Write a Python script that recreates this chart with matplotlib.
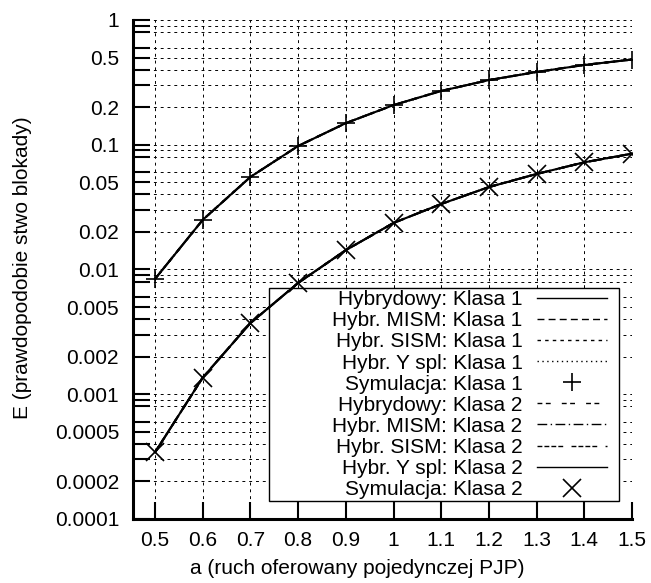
import matplotlib
matplotlib.use("Agg")
import matplotlib.pyplot as plt
from matplotlib.patches import Rectangle
from matplotlib.ticker import NullLocator

plt.rcParams['font.family'] = ['Liberation Sans', 'DejaVu Sans']
plt.rcParams['font.size'] = 15

# ruch oferowany pojedynczej PJP
a = [0.5, 0.6, 0.7, 0.8, 0.9, 1.0, 1.1, 1.2, 1.3, 1.4, 1.5]

# prawdopodobienstwo blokady
klasa1 = [0.000342, 0.00136, 0.00372, 0.0078, 0.0143, 0.0236, 0.0335, 0.0458, 0.0583, 0.0723, 0.0848]
klasa2 = [0.0084, 0.0250, 0.0552, 0.0977, 0.149, 0.208, 0.270, 0.330, 0.383, 0.436, 0.482]

x_ticks = [0.5, 0.6, 0.7, 0.8, 0.9, 1.0, 1.1, 1.2, 1.3, 1.4, 1.5]
x_labels = ['0.5', '0.6', '0.7', '0.8', '0.9', '1', '1.1', '1.2', '1.3', '1.4', '1.5']
y_major = [0.0001, 0.0002, 0.0005, 0.001, 0.002, 0.005, 0.01, 0.02, 0.05, 0.1, 0.2, 0.5, 1]
y_labels = ['0.0001', '0.0002', '0.0005', '0.001', '0.002', '0.005',
            '0.01', '0.02', '0.05', '0.1', '0.2', '0.5', '1']
y_extra = [3, 4, 6, 8, 9]  # dodatkowe znaczniki w kazdej dekadzie

fig = plt.figure(figsize=(6.51, 5.83), dpi=100)
ax = fig.add_axes([0.2043, 0.1098, 0.7665, 0.8559])
ax.set_yscale('log')
ax.set_xlim(0.4538, 1.5)
ax.set_ylim(0.0001, 1)

# wszystkie znaczniki osi y
ticks = list(y_major)
labels = list(y_labels)
for d in [0.0001, 0.001, 0.01, 0.1]:
    for k in y_extra:
        ticks.append(d * k)
        labels.append('')
ax.set_yticks(ticks)
ax.set_yticklabels(labels)
ax.yaxis.set_minor_locator(NullLocator())
ax.set_xticks(x_ticks)
ax.set_xticklabels(x_labels)

ax.tick_params(direction='in', length=12, width=1.5, colors='black')
ax.tick_params(axis='y', pad=10)
ax.tick_params(axis='x', pad=9)
for s in ['top', 'right']:
    ax.spines[s].set_visible(False)
for s in ['left', 'bottom']:
    ax.spines[s].set_linewidth(2.2)

ax.set_axisbelow(True)
ax.grid(True, color='black', lw=0.7, linestyle=(0, (3, 4)))

# linie modeli
lw = 1.5
h = []
h += ax.plot(a, klasa2, color='black', lw=lw, ls='-', label='Hybrydowy: Klasa 1')
h += ax.plot(a, klasa2, color='black', lw=lw, ls=(0, (5, 3)), label='Hybr. MISM: Klasa 1')
h += ax.plot(a, klasa2, color='black', lw=lw, ls=(0, (2.5, 3)), label='Hybr. SISM: Klasa 1')
h += ax.plot(a, klasa2, color='black', lw=lw, ls=(0, (1, 2.5)), label='Hybr. Y spl: Klasa 1')
h += ax.plot(a, klasa2, ls='none', marker='+', color='black', ms=13, mew=1.2, label='Symulacja: Klasa 1')
h += ax.plot(a, klasa1, color='black', lw=lw, ls=(0, (3.5, 2.5, 3.5, 8)), label='Hybrydowy: Klasa 2')
h += ax.plot(a, klasa1, color='black', lw=lw, ls=(0, (7, 2.5, 1, 2.5)), label='Hybr. MISM: Klasa 2')
h += ax.plot(a, klasa1, color='black', lw=lw, ls=(0, (3.5, 1.5, 3.5, 1.5, 3.5, 1.5, 3.5, 6)), label='Hybr. SISM: Klasa 2')
h += ax.plot(a, klasa1, color='black', lw=lw, ls='-', label='Hybr. Y spl: Klasa 2')
h += ax.plot(a, klasa1, ls='none', marker='x', color='black', ms=13, mew=1.2, label='Symulacja: Klasa 2')
for ln in h:
    ln.set_zorder(3)

# ramka legendy
box = Rectangle((0.2725, 0.036), 0.7015, 0.427, transform=ax.transAxes,
                facecolor='white', edgecolor='black', lw=1, zorder=1.5)
ax.add_patch(box)
leg = ax.legend(handles=h, loc='lower right', bbox_to_anchor=(0.95, 0.04),
                markerfirst=False, frameon=False, fontsize=15,
                handlelength=3.36, handletextpad=0.7, labelspacing=0.1,
                borderpad=0, borderaxespad=0, numpoints=1)
leg.set_zorder(1.6)
for hl in leg.get_lines():
    hl.set_linewidth(1.0)

ax.set_xlabel('a (ruch oferowany pojedynczej PJP)', va='center')
ax.xaxis.set_label_coords(0.45, -0.1)
ax.set_ylabel('E (prawdopodobie stwo blokady)', va='center')
ax.yaxis.set_label_coords(-0.222, 0.503)

plt.savefig('out.png', dpi=100)
